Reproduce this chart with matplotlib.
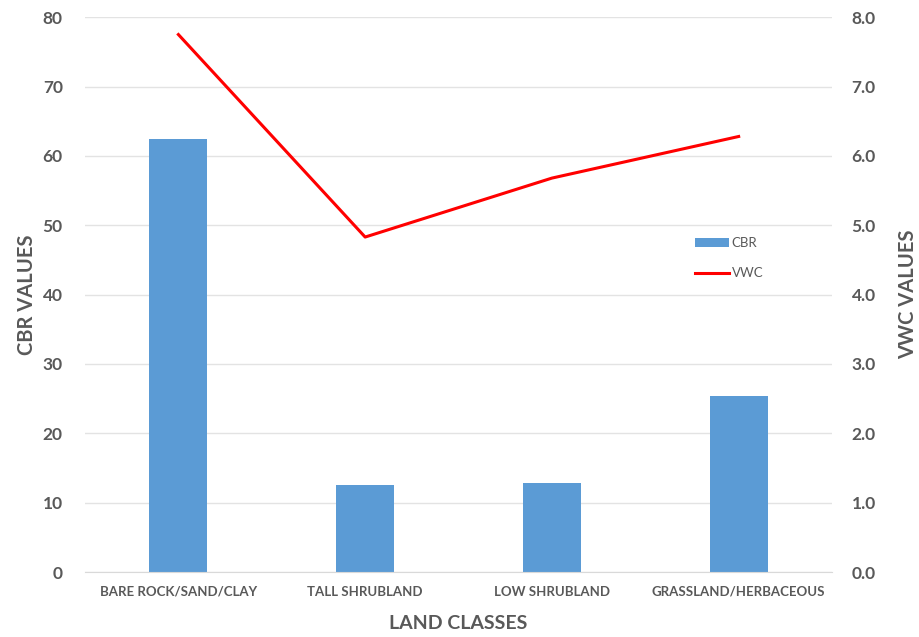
import matplotlib.pyplot as plt
import numpy as np

# data
land_classes = ['BARE ROCK/SAND/CLAY', 'TALL SHRUBLAND', 'LOW SHRUBLAND', 'GRASSLAND/HERBACEOUS']
cbr = [62.5, 12.6, 12.8, 25.4]
vwc = [7.75, 4.83, 5.68, 6.28]

plt.rcParams['font.family'] = ['Lato', 'DejaVu Sans']
grey = '#595959'

fig = plt.figure(figsize=(9.2, 6.37), dpi=100)
ax = fig.add_axes([0.0924, 0.102, 0.812, 0.871])
ax2 = ax.twinx()

x = np.arange(len(land_classes))
bars = ax.bar(x, cbr, width=0.31, color='#5b9bd5', label='CBR', zorder=2)
line, = ax2.plot(x, vwc, color='#ff0000', lw=2.2, label='VWC', zorder=3)

ax.set_xlim(-0.5, len(land_classes) - 0.5)
ax.set_ylim(0, 80)
ax2.set_ylim(0, 8)
ax.set_yticks(np.arange(0, 81, 10))
ax2.set_yticks(np.arange(0, 8.1, 1.0))
ax2.set_yticklabels(['%.1f' % v for v in np.arange(0, 8.1, 1.0)])

ax.grid(axis='y', color='#e3e3e3', lw=1, zorder=0)
ax.set_axisbelow(True)
for a in (ax, ax2):
    for s in a.spines.values():
        s.set_visible(False)
    a.tick_params(length=0, colors=grey)
ax.spines['bottom'].set_visible(True)
ax.spines['bottom'].set_color('#d9d9d9')

ax.set_xticks(x)
ax.set_xticklabels(land_classes, fontsize=9.5, fontweight='bold', color=grey)
ax.tick_params(axis='x', pad=10)
ax.tick_params(axis='y', labelsize=12.5, pad=16)
ax2.tick_params(axis='y', labelsize=12.5, pad=14)
for lab in ax.get_yticklabels() + ax2.get_yticklabels():
    lab.set_fontweight('bold')

ax.set_xlabel('LAND CLASSES', fontsize=14, fontweight='bold', color=grey, labelpad=12)
ax.set_ylabel('CBR VALUES', fontsize=14.5, fontweight='bold', color=grey, labelpad=4)
ax2.set_ylabel('VWC VALUES', fontsize=14.5, fontweight='bold', color=grey, labelpad=16)

leg = ax2.legend([bars, line], ['CBR', 'VWC'], loc='center left',
                 bbox_to_anchor=(0.8, 0.566), frameon=False, fontsize=9.5,
                 handlelength=2.6, handletextpad=0.2, labelspacing=1.4)
for t in leg.get_texts():
    t.set_color(grey)

fig.savefig('out.png', dpi=100)
